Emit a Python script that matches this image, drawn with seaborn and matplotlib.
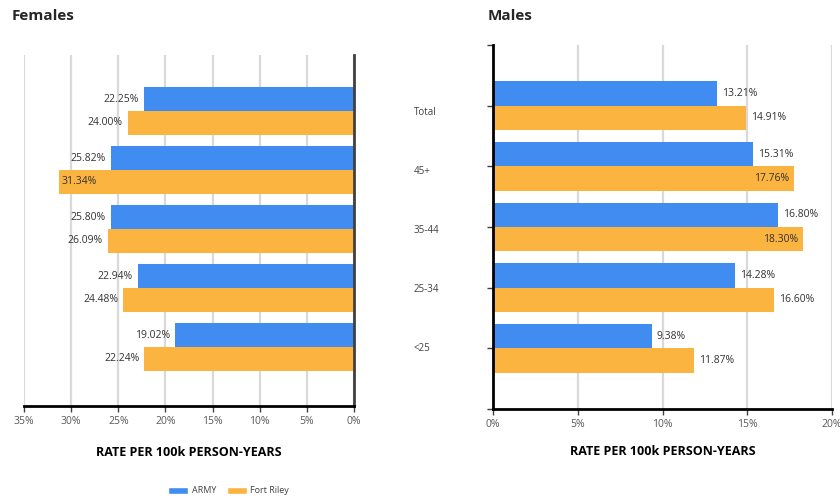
import seaborn as sns
import matplotlib.pyplot as plt
import pandas as pd
from matplotlib.patches import Patch

# data
groups = ['Total', '45+', '35-44', '25-34', '<25']
series = ['ARMY', 'Fort Riley']
female_army = [22.25, 25.82, 25.80, 22.94, 19.02]
female_riley = [24.00, 31.34, 26.09, 24.48, 22.24]
male_army = [13.21, 15.31, 16.80, 14.28, 9.38]
male_riley = [14.91, 17.76, 18.30, 16.60, 11.87]
colors = ['#418CF0', '#FCB441']


def make_df(army, riley):
    return pd.DataFrame({'Age': groups * 2,
                         'Group': [series[0]] * len(groups) + [series[1]] * len(groups),
                         'Rate': army + riley})


def label_bars(ax, vals_list, cut, flip):
    for cont, vals in zip(ax.containers, vals_list):
        for bar, v in zip(cont, vals):
            y = bar.get_y() + bar.get_height() / 2
            inside = v > cut
            if flip:
                off, ha = ((3, 'left') if inside else (-5, 'right'))
            else:
                off, ha = ((-5, 'right') if inside else (5, 'left'))
            ax.annotate(f'{v:.2f}%', (v, y), xytext=(off, 0), textcoords='offset pixels',
                        ha=ha, va='center', fontsize=7.5, color='#333333')


sns.set_style('white')
plt.rcParams['font.family'] = ['Open Sans', 'DejaVu Sans']

fig = plt.figure(figsize=(8.4, 5.01), dpi=100)
axf = fig.add_axes([0.0286, 0.1896, 0.3929, 0.7006])
axm = fig.add_axes([0.5869, 0.1836, 0.4036, 0.7265])

sns.barplot(data=make_df(female_army, female_riley), y='Age', x='Rate', hue='Group',
            palette=colors, orient='h', ax=axf, width=0.8, saturation=1, linewidth=0, legend=False)
sns.barplot(data=make_df(male_army, male_riley), y='Age', x='Rate', hue='Group',
            palette=colors, orient='h', ax=axm, width=0.8, saturation=1, linewidth=0, legend=False)

# females: reversed x axis, categories shown on the right
axf.set_xlim(35, 0)
axf.set_ylim(5, -0.95)
axf.set_xticks(range(0, 36, 5))
axf.set_xticklabels([f'{t}%' for t in range(0, 36, 5)])
axf.yaxis.tick_right()
axf.tick_params(axis='y', length=0, pad=43, labelsize=7, labelcolor='#404040')
axf.set_ylabel('')
for s in ['left', 'top']:
    axf.spines[s].set_visible(False)
axf.spines['right'].set_color('#404040')
axf.spines['right'].set_linewidth(2)
axf.spines['bottom'].set_color('black')
axf.spines['bottom'].set_linewidth(2)

# males
axm.set_xlim(0, 20)
axm.set_ylim(5, -1)
axm.set_xticks(range(0, 21, 5))
axm.set_xticklabels([f'{t}%' for t in range(0, 21, 5)])
axm.set_yticks(range(-1, 6))
axm.set_yticklabels([])
axm.set_ylabel('')
axm.tick_params(axis='y', left=True, length=4, width=1, color='#404040', direction='out')
for s in ['right', 'top']:
    axm.spines[s].set_visible(False)
for s in ['left', 'bottom']:
    axm.spines[s].set_color('black')
    axm.spines[s].set_linewidth(2)

for ax, pad in [(axf, 14), (axm, 11)]:
    ax.grid(axis='x', color='#d9d9d9', lw=1.6)
    ax.set_axisbelow(True)
    ax.tick_params(axis='x', bottom=True, length=4, width=1, color='#404040', direction='out',
                   labelsize=7.5, labelcolor='#595959', pad=3)
    ax.set_xlabel('RATE PER 100k PERSON-YEARS', fontsize=9, fontweight='bold',
                  color='black', labelpad=pad)

label_bars(axf, [female_army, female_riley], 29, True)
label_bars(axm, [male_army, male_riley], 17, False)

fig.text(12 / 840, 1 - 16 / 501, 'Females', fontsize=11, fontweight='bold', va='center')
fig.text(488 / 840, 1 - 16 / 501, 'Males', fontsize=11, fontweight='bold', va='center')

handles = [Patch(facecolor=c, label=s) for c, s in zip(colors, series)]
fig.legend(handles=handles, loc='center', bbox_to_anchor=(0.272, 0.02), ncol=2, frameon=False,
           fontsize=6.5, handlelength=2.2, handleheight=0.9, columnspacing=1.2,
           handletextpad=0.4, labelcolor='#404040')

fig.savefig('out.png', dpi=100)
